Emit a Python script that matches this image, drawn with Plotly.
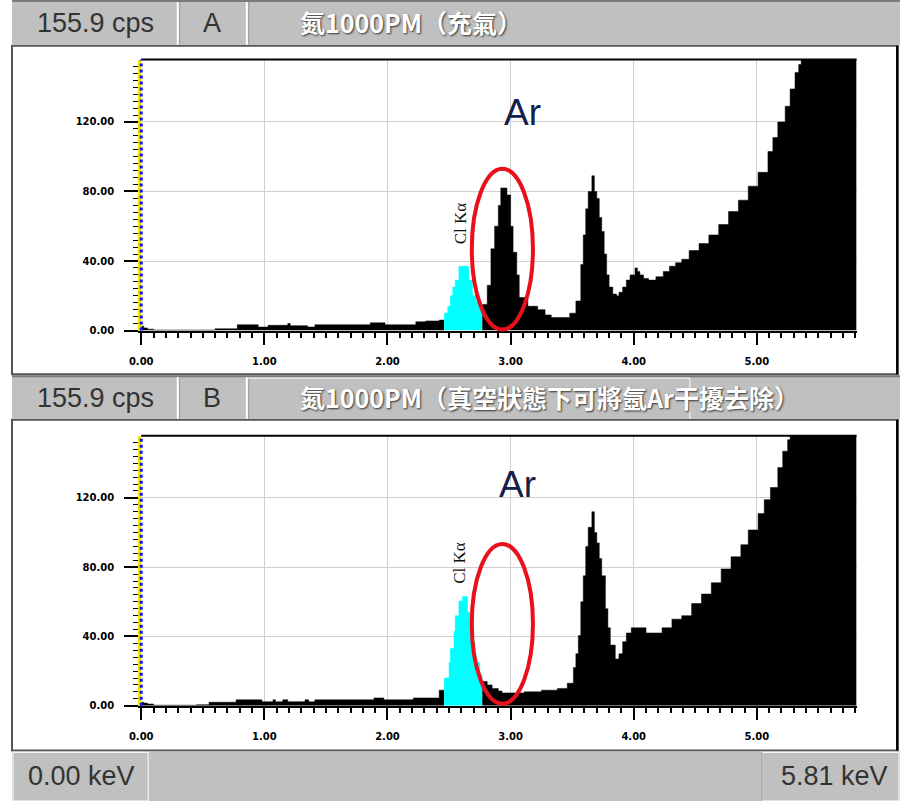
import plotly.graph_objects as go

W, H = 900, 807

# ---------------- data (keV, cps) ----------------
A_LEFT_E = [0.00, 0.02, 0.05, 0.10, 0.60, 0.78, 0.95, 1.03, 1.19, 1.21, 1.35, 1.41, 1.86, 1.98, 2.23, 2.31, 2.42, 2.46]
A_LEFT_C = [2.5, 1.5, 0.8, 0.3, 1.0, 3.3, 2.0, 3.0, 4.0, 2.8, 2.0, 3.3, 4.4, 3.3, 5.0, 5.5, 6.0, 6.0]

A_CL_E = [2.46, 2.49, 2.51, 2.53, 2.55, 2.58, 2.66, 2.69, 2.72, 2.75, 2.77]
A_CL_C = [10, 14, 20, 25, 29, 37, 29, 20, 17, 15, 15]

A_RIGHT_E = [2.77, 2.81, 2.84, 2.87, 2.90, 2.92, 2.97, 3.00, 3.02, 3.05, 3.07, 3.14, 3.22, 3.28, 3.33, 3.43,
             3.48, 3.53, 3.57, 3.59, 3.61, 3.63, 3.66, 3.68, 3.70, 3.72, 3.74, 3.76, 3.78, 3.80, 3.83, 3.86,
             3.88, 3.91, 3.94, 3.97, 4.01, 4.03, 4.05, 4.08, 4.12, 4.18, 4.24, 4.29, 4.34, 4.39, 4.45, 4.53,
             4.61, 4.69, 4.77, 4.85, 4.93, 5.01, 5.09, 5.13, 5.17, 5.23, 5.27, 5.31, 5.34, 5.36, 5.50, 5.81]
A_RIGHT_C = [15, 26, 47, 60, 72, 82, 78, 60, 45, 32, 19, 14, 12, 9, 7.5, 7.5,
             10, 17, 38, 55, 70, 80, 89, 80, 76, 65, 57, 44, 32, 25, 21, 20,
             22, 25, 29, 32, 36, 34, 32, 30, 29, 31, 34, 37, 39, 41, 46, 50,
             55, 61, 68.5, 75, 83, 91, 103, 111, 120, 129, 139, 148.5, 153, 165, 200, 260]

B_LEFT_E = [0.00, 0.02, 0.05, 0.10, 0.45, 0.55, 0.77, 0.98, 1.07, 1.09, 1.15, 1.19, 1.33, 1.36, 1.41, 1.89, 1.97, 2.21, 2.42, 2.46]
B_LEFT_C = [2.0, 1.5, 1.0, 0.3, 0.6, 2.0, 3.4, 2.3, 3.4, 2.3, 3.4, 2.3, 3.4, 2.3, 3.4, 4.5, 3.4, 4.5, 9.0, 9.0]

B_CL_E = [2.46, 2.50, 2.51, 2.54, 2.55, 2.58, 2.61, 2.65, 2.67, 2.68, 2.71, 2.72, 2.75, 2.77]
B_CL_C = [16, 25, 33, 43, 52, 60.5, 63, 54, 45, 37, 30, 25, 18, 18]

B_RIGHT_E = [2.77, 2.81, 2.85, 2.90, 2.93, 3.01, 3.11, 3.25, 3.38, 3.46, 3.51, 3.53, 3.55, 3.57, 3.59, 3.61,
             3.63, 3.66, 3.68, 3.70, 3.72, 3.74, 3.77, 3.79, 3.81, 3.85, 3.88, 3.91, 3.94, 3.98, 4.05, 4.10,
             4.18, 4.23, 4.31, 4.39, 4.47, 4.55, 4.63, 4.71, 4.79, 4.87, 4.93, 5.01, 5.06, 5.11, 5.17, 5.21,
             5.25, 5.27, 5.50, 5.81]
B_RIGHT_C = [14, 12, 10, 8.5, 7.4, 7.4, 8, 9, 10, 13, 22, 30, 40.5, 60, 75, 92,
             103, 112, 100, 94, 85, 75, 56, 45, 35, 27, 30, 37, 42, 45, 45, 42,
             42, 45, 50, 52, 59, 64.5, 71, 79, 86, 93, 101.5, 111, 119, 126, 137.5, 147,
             153.6, 165, 210, 280]

X_TICKS = [0, 1, 2, 3, 4, 5]
X_TICK_TEXT = ["0.00", "1.00", "2.00", "3.00", "4.00", "5.00"]
Y_TICKS = [0, 40, 80, 120]
Y_TICK_TEXT = ["0.00", "40.00", "80.00", "120.00"]
X_MAX = 5.81
Y_MAX = 155.9

# ---------------- helpers ----------------
def fx(p):
    return p / W

def fy(p):
    return 1 - p / H

fig = go.Figure()

def add_spectrum(xa, ya, E, C, color):
    fig.add_trace(go.Scatter(x=E, y=C, xaxis=xa, yaxis=ya, mode="lines", line=dict(color=color, width=0.5, shape="hv"),
                             fill="tozeroy", fillcolor=color, hoverinfo="skip"))

add_spectrum("x", "y", A_LEFT_E, A_LEFT_C, "black")
add_spectrum("x", "y", A_CL_E, A_CL_C, "#00ffff")
add_spectrum("x", "y", A_RIGHT_E, A_RIGHT_C, "black")
add_spectrum("x2", "y2", B_LEFT_E, B_LEFT_C, "black")
add_spectrum("x2", "y2", B_CL_E, B_CL_C, "#00ffff")
add_spectrum("x2", "y2", B_RIGHT_E, B_RIGHT_C, "black")

tickfont = dict(family="DejaVu Sans", size=10, color="#000000", weight="bold")

def xaxis_cfg(anchor):
    return dict(domain=[fx(131), fx(856)], anchor=anchor, range=[0, X_MAX], tickvals=X_TICKS, ticktext=X_TICK_TEXT,
                showgrid=True, gridcolor="#cfcfcf", gridwidth=1, zeroline=False,
                showline=True, linecolor="black", linewidth=2, ticks="outside", ticklen=12, tickwidth=2,
                tickcolor="black", ticklabelstandoff=8, tickfont=tickfont, fixedrange=True,
                minor=dict(dtick=0.1, tick0=0, ticks="outside", ticklen=5, tickwidth=2, tickcolor="black", showgrid=False))

def yaxis_cfg(anchor, top, bottom):
    return dict(domain=[fy(bottom), fy(top)], anchor=anchor, range=[0, Y_MAX], tickvals=Y_TICKS, ticktext=Y_TICK_TEXT,
                showgrid=True, gridcolor="#cfcfcf", gridwidth=1, zeroline=False,
                showline=True, linecolor="#f2e600", linewidth=3, ticks="outside", ticklen=14, tickwidth=2,
                tickcolor="black", ticklabelstandoff=8, tickfont=tickfont, fixedrange=True,
                minor=dict(dtick=4, tick0=0, ticks="outside", ticklen=5, tickwidth=1, tickcolor="black", showgrid=False))

shapes = []
annotations = []

GRAY = "#c0c0c0"
DARK = "#7a7a7a"

def rect(x0, y0, x1, y1, fill=None, line=None, lw=1):
    shapes.append(dict(type="rect", xref="paper", yref="paper", x0=fx(x0), x1=fx(x1), y0=fy(y1), y1=fy(y0),
                       fillcolor=fill if fill else "rgba(0,0,0,0)", line=dict(color=line if line else "rgba(0,0,0,0)", width=lw),
                       layer="below"))

def hline(x0, x1, y, color, lw=1, layer="below"):
    shapes.append(dict(type="line", xref="paper", yref="paper", x0=fx(x0), x1=fx(x1), y0=fy(y), y1=fy(y),
                       line=dict(color=color, width=lw), layer=layer))

def vline(x, y0, y1, color, lw=1, layer="below"):
    shapes.append(dict(type="line", xref="paper", yref="paper", x0=fx(x), x1=fx(x), y0=fy(y0), y1=fy(y1),
                       line=dict(color=color, width=lw), layer=layer))

def text(x, y, s, size, color, family, xanchor="center", weight="normal", shadow="none", textangle=0):
    annotations.append(dict(x=fx(x), y=fy(y), xref="paper", yref="paper", text=s, showarrow=False,
                            xanchor=xanchor, yanchor="middle", textangle=textangle,
                            font=dict(size=size, color=color, family=family, weight=weight, shadow=shadow)))

NARROW = "Liberation Sans Narrow, Arial Narrow, Liberation Sans, sans-serif"
CJK = "Noto Sans CJK TC, Noto Sans CJK SC, sans-serif"

def header(y0, y1, letter, title, extra_box=None):
    rect(0, y0, W, y1, fill=GRAY)
    hline(0, W, y0 + 1, DARK, 2)
    for bx in (168, 238):
        vline(bx, y0 + 2, y1, "white", 2)
        vline(bx + 2, y0 + 2, y1, "#9a9a9a", 1)
    if extra_box:
        hline(238, extra_box, y0 + 3, "white", 1)
        vline(extra_box, y0 + 3, y1, "white", 1)
    text(85, (y0 + y1) / 2 + 1, "155.9 cps", 27, "#333333", NARROW)
    text(203, (y0 + y1) / 2 + 1, letter, 27, "#333333", NARROW)
    text(290, (y0 + y1) / 2, title, 25, "white", CJK, xanchor="left", weight="bold",
         shadow="1px 1px 2px #333333")

# panels
rect(0, 46, 898, 377, fill="white", line="#555555", lw=2)
rect(0, 423, 898, 756, fill="white", line="#555555", lw=2)
vline(897, 46, 377, "black", 2)
vline(897, 423, 756, "black", 2)

header(0, 45, "A", "氮1000PM（充氣）")
header(378, 422, "B", "氮1000PM（真空狀態下可將氬Ar干擾去除）", extra_box=687)

# footer
rect(0, 757, W, H, fill=GRAY)
rect(1, 758, 138, H, fill=GRAY, line="white", lw=1)
rect(760, 758, 899, H, fill=GRAY, line="white", lw=1)
vline(760, 758, H, "#8a8a8a", 1)
text(70, 782, "0.00 keV", 27, "#333333", NARROW)
text(890, 782, "5.81 keV", 27, "#333333", NARROW, xanchor="right")

# plot decorations: top border and dotted blue y-axis
for xa, ya in (("x", "y"), ("x2", "y2")):
    shapes.append(dict(type="line", xref=f"{xa} domain", yref=f"{ya} domain", x0=0, x1=1, y0=1, y1=1,
                       line=dict(color="black", width=2), layer="above"))
    shapes.append(dict(type="line", xref=f"{xa} domain", yref=f"{ya} domain", x0=0, x1=0, y0=0, y1=1,
                       line=dict(color="#1010ff", width=3, dash="dot"), layer="above"))

# red ellipses
for (x0, y0, x1, y1) in ((466, 170, 528, 332), (466, 548, 528, 709)):
    shapes.append(dict(type="circle", xref="paper", yref="paper", x0=fx(x0), x1=fx(x1), y0=fy(y1), y1=fy(y0),
                       line=dict(color="#e8101a", width=4), layer="above"))

# labels
for (ax, ay), (cx, cy) in (((517, 113), (454, 225)), ((512, 488), (454, 567))):
    text(ax, ay, "Ar", 37, "#14204a", "Liberation Sans, Arial, sans-serif")
    text(cx, cy, "Cl Kα", 17, "#111111", "Liberation Serif, Times New Roman, serif", textangle=-90)

fig.update_layout(
    width=W, height=H, margin=dict(l=0, r=0, t=0, b=0),
    paper_bgcolor="white", plot_bgcolor="white", showlegend=False,
    xaxis=xaxis_cfg("y"), yaxis=yaxis_cfg("x", 60, 333),
    xaxis2=xaxis_cfg("y2"), yaxis2=yaxis_cfg("x2", 439, 711),
    shapes=shapes, annotations=annotations,
)

fig.write_html("out.html", config={"displayModeBar": False},
               post_script="document.body.style.margin='0px';")
